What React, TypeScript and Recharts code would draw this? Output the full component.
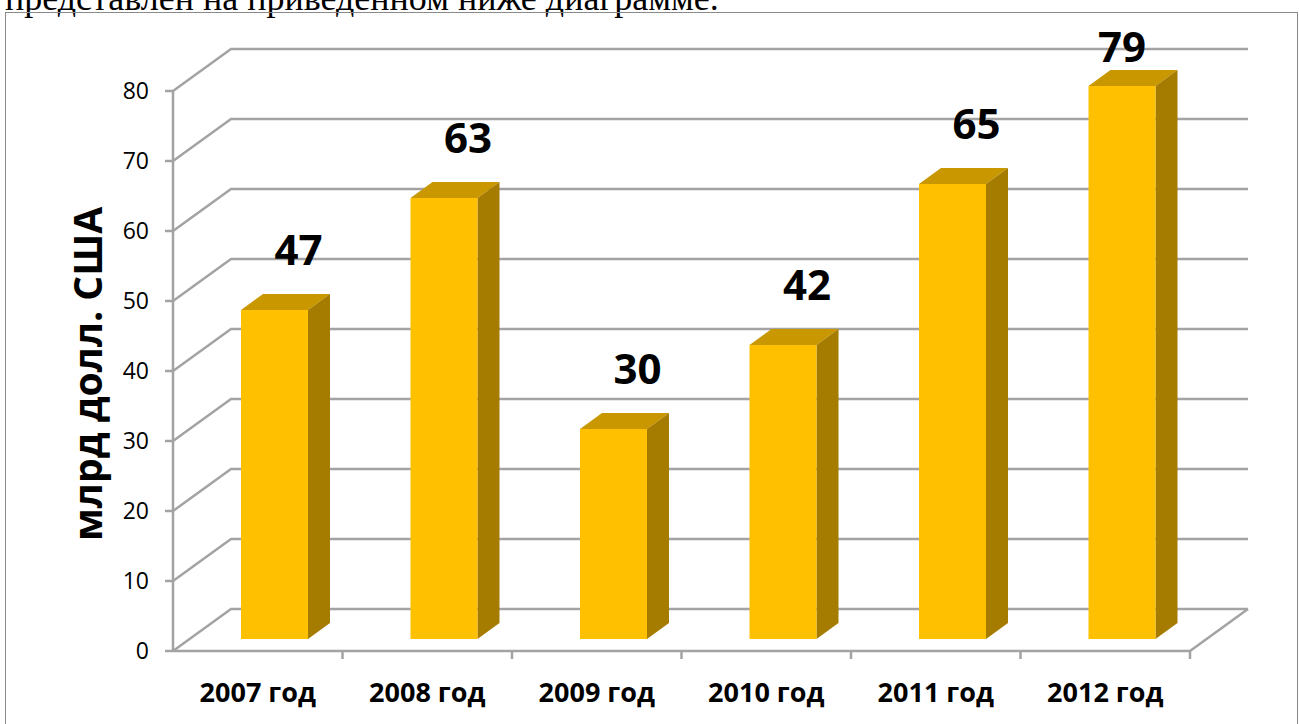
import React from 'react'
import { BarChart, Bar, XAxis, YAxis, CartesianGrid, LabelList } from 'recharts'

const years = ['2007 год', '2008 год', '2009 год', '2010 год', '2011 год', '2012 год']
const amounts = [47, 63, 30, 42, 65, 79]
const yTicks = [0, 10, 20, 30, 40, 50, 60, 70, 80]
const axisTitle = 'млрд долл. США'
const caption = 'представлен на приведенном ниже диаграмме.'

const W = 1299
const H = 724
const M = { top: 91, right: 109, left: 113, bottom: 0 }
const Y_AXIS_W = 60
const X_AXIS_H = 73
const FLOOR_Y = H - M.bottom - X_AXIS_H

// fake 3d: full wall depth, bar offset into depth, bar own depth
const WALL_DX = 58
const WALL_DY = 42
const OFF_DX = 17
const OFF_DY = 12
const BAR_DX = 22
const BAR_DY = 16

const GRID = '#a3a3a3'
const FRONT = '#ffc000'
const SIDE = '#a67c00'
const TOP = '#c99700'

const data = years.map((year, i) => ({ year, value: amounts[i] }))

function gridLine(p: any) {
  const { x1, x2, y1, index } = p
  const onFloor = Math.abs(y1 - FLOOR_Y) < 1
  return (
    <g key={`g-${index}`}>
      <polyline
        points={`${x1},${y1} ${x1 + WALL_DX},${y1 - WALL_DY} ${x2 + WALL_DX},${y1 - WALL_DY}`}
        fill="none" stroke={GRID} strokeWidth={2.5}
      />
      {onFloor && (
        <>
          <line x1={x2} y1={y1} x2={x2 + WALL_DX} y2={y1 - WALL_DY} stroke={GRID} strokeWidth={2.5} />
          {years.map((_, k) => {
            const x = x1 + ((x2 - x1) * (k + 1)) / years.length
            return <line key={k} x1={x} y1={y1} x2={x} y2={y1 + 8} stroke={GRID} strokeWidth={2.5} />
          })}
        </>
      )}
    </g>
  )
}

function Bar3D(p: any) {
  const { x, y, width, height } = p
  const fx = x + OFF_DX
  const fy = y - OFF_DY
  return (
    <g>
      <polygon
        points={`${fx},${fy} ${fx + BAR_DX},${fy - BAR_DY} ${fx + width + BAR_DX},${fy - BAR_DY} ${fx + width},${fy}`}
        fill={TOP}
      />
      <polygon
        points={`${fx + width},${fy} ${fx + width + BAR_DX},${fy - BAR_DY} ${fx + width + BAR_DX},${fy + height - BAR_DY} ${fx + width},${fy + height}`}
        fill={SIDE}
      />
      <rect x={fx} y={fy} width={width} height={height} fill={FRONT} />
    </g>
  )
}

function ValueLabel(p: any) {
  const { x, y, width, value } = p
  let cy = y - 74
  let cx = x + width / 2 + 41
  if (cy < 45) {
    cy = 45
    cx = x + width / 2 + OFF_DX
  }
  return (
    <text x={cx} y={cy} textAnchor="middle" dominantBaseline="central"
      fontFamily="Open Sans" fontWeight={700} fontSize={42} fill="#000">
      {value}
    </text>
  )
}

function AxisTitle() {
  const cy = 374
  return (
    <text x={102} y={cy} transform={`rotate(-90, 102, ${cy})`} textAnchor="middle"
      fontFamily="Open Sans" fontWeight={700} fontSize={39} fill="#000">
      {axisTitle}
    </text>
  )
}

export default function App() {
  return (
    <div style={{ position: 'fixed', left: 0, top: 0, width: W, height: H, overflow: 'hidden', background: '#fff' }}>
      <svg width={W} height={20} style={{ position: 'absolute', left: 0, top: 0 }}>
        <text x={5} y={9.5} fontFamily="Liberation Serif" fontSize={36} fill="#000">{caption}</text>
      </svg>
      <div style={{ position: 'absolute', left: 5, top: 12, width: 1291, height: 800, border: '1.5px solid #8a8a8a' }} />
      <div style={{ position: 'absolute', left: 0, top: 0 }}>
        <BarChart width={W} height={H} data={data} margin={M} barSize={67}>
          <CartesianGrid horizontal={gridLine} vertical={false} />
          <XAxis
            dataKey="year" height={X_AXIS_H} tickLine={false} tickSize={0} tickMargin={32}
            axisLine={{ stroke: GRID, strokeWidth: 2.5 }}
            tick={{ fontFamily: 'Open Sans', fontWeight: 700, fontSize: 27, fill: '#000' }}
          />
          <YAxis
            width={Y_AXIS_W} domain={[0, 80]} ticks={yTicks} interval={0}
            tickSize={8} tickMargin={16}
            axisLine={{ stroke: GRID, strokeWidth: 2.5 }} tickLine={{ stroke: GRID, strokeWidth: 2.5 }}
            tick={{ fontFamily: 'Open Sans', fontSize: 23, fill: '#000' }}
            label={<AxisTitle />}
          />
          <Bar dataKey="value" shape={<Bar3D />} isAnimationActive={false}>
            <LabelList dataKey="value" content={<ValueLabel />} />
          </Bar>
        </BarChart>
      </div>
    </div>
  )
}
